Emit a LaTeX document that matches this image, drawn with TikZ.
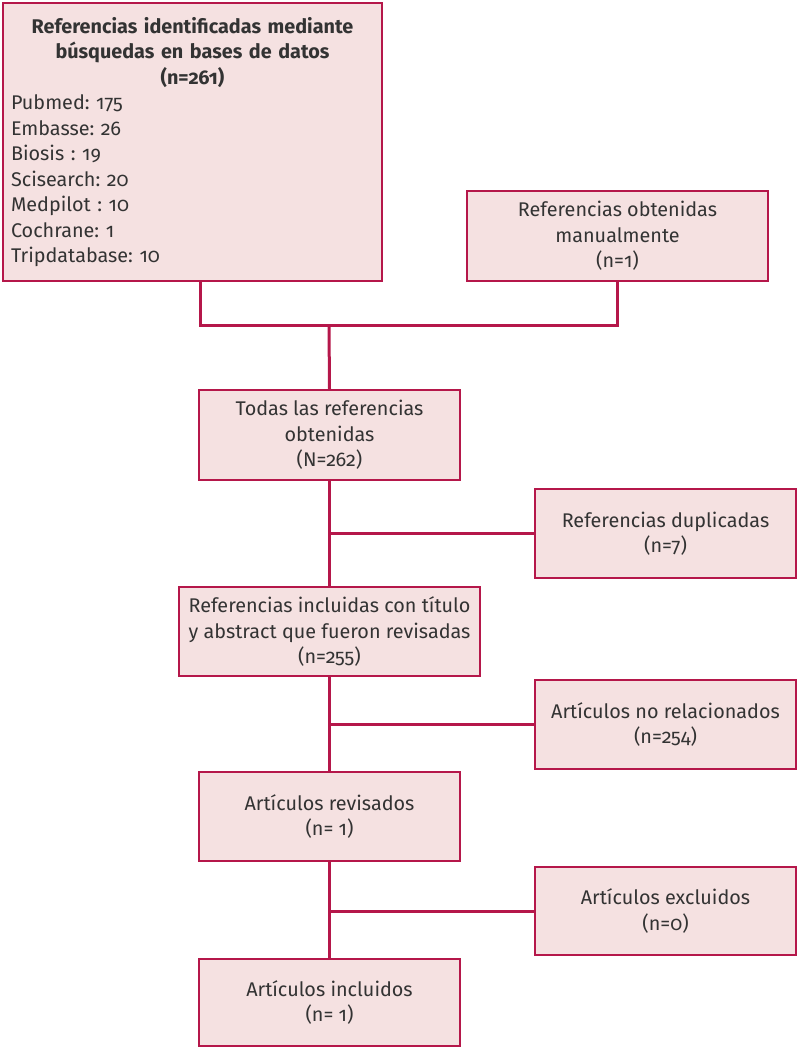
\documentclass[tikz,border=0pt]{standalone}
\usepackage{fontspec}
\setmainfont{Fira Sans}[Numbers=OldStyle]
\frenchspacing
\definecolor{borde}{HTML}{B5174A}
\definecolor{relleno}{HTML}{F5E1E1}
\definecolor{texto}{HTML}{333333}
\tikzset{
  caja/.style={draw=borde, line width=1.5pt, fill=relleno, text=texto, align=center,
    inner sep=4pt, font=\fontsize{19.8}{25.5}\selectfont},
  linea/.style={draw=borde, line width=3pt},
}
\begin{document}
\begin{tikzpicture}[x=1pt,y=-1pt]
  \useasboundingbox (0,0) rectangle (798,1049);
  % cajas
  \node[caja, minimum width=379pt, minimum height=278pt, text width=363pt, align=left] (bases) at (192.5,142)
    {{\centering\bfseries Referencias identificadas mediante\\ búsquedas en bases de datos\\ (n=261)\par}
     Pubmed: 175\\ Embasse: 26\\ Biosis : 19\\ Scisearch: 20\\ Medpilot : 10\\ Cochrane: 1\\ Tripdatabase: 10};
  \node[caja, minimum width=301pt, minimum height=90pt] (manual) at (617.5,236) {Referencias obtenidas\\ manualmente\\ (n=1)};
  \node[caja, minimum width=261pt, minimum height=90pt] (todas) at (329.5,435) {Todas las referencias\\ obtenidas\\ (N=262)};
  \node[caja, minimum width=261pt, minimum height=89pt] (duplicadas) at (665.5,533.5) {Referencias duplicadas\\ (n=7)};
  \node[caja, minimum width=301pt, minimum height=89pt] (incluidas) at (329.5,631.5) {Referencias incluidas con título\\ y abstract que fueron revisadas\\ (n=255)};
  \node[caja, minimum width=261pt, minimum height=89pt] (norel) at (665.5,724.5) {Artículos no relacionados\\ (n=254)};
  \node[caja, minimum width=261pt, minimum height=89pt] (revisados) at (329.5,816.5) {Artículos revisados\\ (n= 1)};
  \node[caja, minimum width=261pt, minimum height=88pt] (excluidos) at (665.5,911) {Artículos excluidos\\ (n=0)};
  \node[caja, minimum width=261pt, minimum height=87pt] (incluidos) at (329.5,1002.5) {Artículos incluidos\\ (n= 1)};
  % conectores
  \coordinate (union) at (329,325);
  \draw[linea] ([xshift=7.5pt]bases.south) |- (union) -| (manual.south);
  \draw[linea] (union) -- (todas.north);
  \draw[linea] (todas.south) -- (incluidas.north);
  \draw[linea] (todas.south |- duplicadas.west) -- (duplicadas.west);
  \draw[linea] (incluidas.south) -- (revisados.north);
  \draw[linea] (incluidas.south |- norel.west) -- (norel.west);
  \draw[linea] (revisados.south) -- (incluidos.north);
  \draw[linea] (revisados.south |- excluidos.west) -- (excluidos.west);
\end{tikzpicture}
\end{document}
